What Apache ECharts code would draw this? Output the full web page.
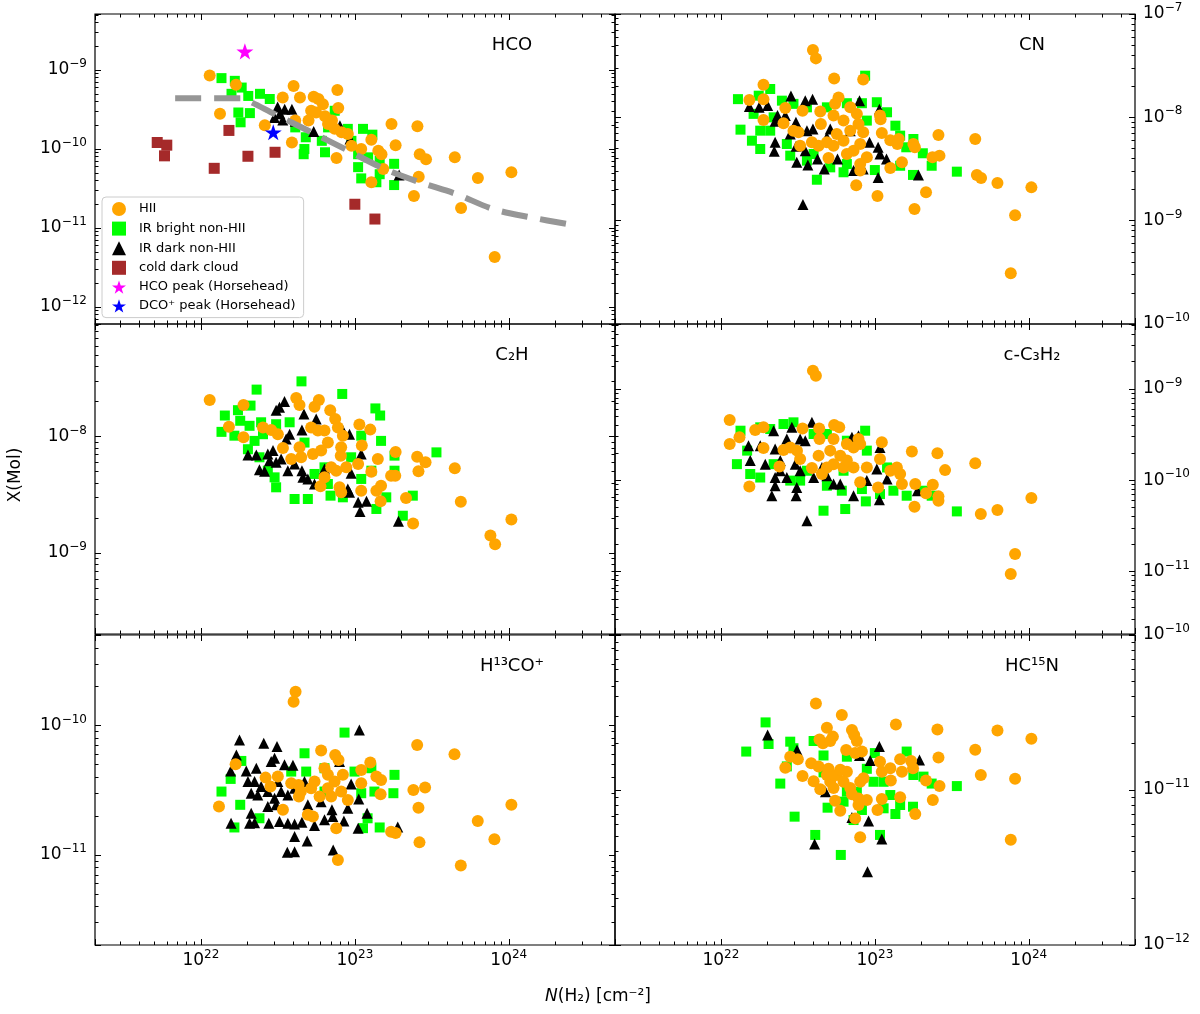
<!DOCTYPE html>
<html>
<head>
<meta charset="utf-8">
<script src="https://cdn.jsdelivr.net/npm/echarts@6/dist/echarts.min.js"></script>
<style>
  html, body { margin: 0; background: #fff; }
  #chart { width: 1200px; height: 1014px; }
</style>
</head>
<body>
<div id="chart"></div>
<script>
// values, [N(H2) cm^-2, X(Mol)]

// HCO
const hcoHII = [[1.14e22,8.5e-10],[1.69e22,6.5e-10],[4.0e22,6.3e-10],[7.7e22,5.6e-10],[3.4e22,4.5e-10],[4.4e22,4.5e-10],[5.4e22,4.6e-10],[5.8e22,4.3e-10],[6.2e22,3.7e-10],[7.8e22,3.3e-10],[5.2e22,3.05e-10],[5.6e22,2.9e-10],[6.4e22,2.6e-10],[7.1e22,2.3e-10],[5.0e22,2.3e-10],[1.33e22,2.8e-10],[2.6e22,2.0e-10],[4.1e22,2.3e-10],[7.4e22,1.8e-10],[8.2e22,1.63e-10],[9.0e22,1.55e-10],[3.9e22,1.21e-10],[1.28e23,1.31e-10],[1.1e23,1.0e-10],[1.42e23,9.5e-11],[1.49e23,8.6e-11],[7.6e22,7.7e-11],[1.73e23,2.07e-10],[2.55e23,1.94e-10],[1.84e23,1.12e-10],[2.64e23,8.6e-11],[2.9e23,7.4e-11],[4.46e23,7.85e-11],[1.53e23,5.6e-11],[2.6e23,4.47e-11],[1.28e23,3.8e-11],[2.42e23,2.54e-11],[6.3e23,4.3e-11],[1.04e24,5.1e-11],[4.9e23,1.79e-11],[8.1e23,4.3e-12],[6.7e22,2.07e-10],[9.5e22,1.1e-10]];
const hcoIRB = [[1.36e22,7.9e-10],[1.66e22,7.3e-10],[1.84e22,6.0e-10],[1.58e22,5.0e-10],[2.03e22,4.7e-10],[2.42e22,5.0e-10],[2.8e22,4.3e-10],[1.75e22,2.9e-10],[2.08e22,2.85e-10],[1.81e22,2.18e-10],[4.1e22,1.88e-10],[4.8e22,1.41e-10],[4.7e22,1.0e-10],[4.65e22,8.6e-11],[6.4e22,9.1e-11],[7.4e22,3.05e-10],[6.7e22,1.88e-10],[9.0e22,1.8e-10],[1.13e23,1.8e-10],[1.3e23,1.52e-10],[1.05e23,8.6e-11],[1.05e23,5.9e-11],[1.1e23,4.25e-11],[1.38e23,3.8e-11],[1.45e23,4.8e-11],[1.8e23,6.5e-11],[1.8e23,3.5e-11],[1.22e23,7.85e-11],[1.45e23,7.1e-11],[9.5e22,1.27e-10],[6.1e22,1.27e-10]];
const hcoIRD = [[3.15e22,3.4e-10],[3.5e22,3.2e-10],[3.9e22,3.2e-10],[3.0e22,2.5e-10],[3.4e22,2.33e-10],[4.1e22,2.24e-10],[5.4e22,1.67e-10],[8.0e22,1.97e-10],[9.3e22,1.34e-10],[1.94e23,4.7e-11],[3.26e22,2.8e-10]];
const hcoCold = [[5.2e21,1.21e-10],[6.0e21,1.12e-10],[5.8e21,8.2e-11],[1.52e22,1.72e-10],[1.22e22,5.7e-11],[2.02e22,8.1e-11],[3.03e22,9.1e-11],[1.0e23,2.0e-11],[1.35e23,1.3e-11]];
const hcoPeak = [[1.93e22,1.72e-9]];
const dcoPeak = [[2.95e22,1.63e-10]];
const hcoModel = [[6.8e21,4.4e-10],[1.84e22,4.4e-10],[2.13e22,3.9e-10],[3.0e22,2.78e-10],[5.2e22,1.64e-10],[8.8e22,9.8e-11],[1.53e23,5.7e-11],[2.64e23,3.8e-11],[4.57e23,2.69e-11],[7.9e23,1.74e-11],[1.4e24,1.36e-11],[2.43e24,1.12e-11]];

// CN
const cnHII = [[3.96e22,4.49e-8],[4.14e22,3.72e-8],[5.44e22,2.38e-8],[8.4e22,2.32e-8],[1.89e22,2.07e-8],[1.53e22,1.47e-8],[1.89e22,1.5e-8],[2.62e22,1.23e-8],[3.39e22,1.16e-8],[4.42e22,1.14e-8],[5.81e22,1.56e-8],[5.52e22,1.35e-8],[6.92e22,1.25e-8],[7.64e22,1.08e-8],[5.39e22,1.04e-8],[6.26e22,9.3e-9],[1.89e22,9.4e-9],[2.55e22,8.75e-9],[2.96e22,7.43e-9],[3.19e22,7.16e-9],[4.46e22,8.6e-9],[7.83e22,8.6e-9],[8.4e22,7.16e-9],[1.08e23,1.04e-8],[1.09e23,9.6e-9],[1.11e23,7.05e-9],[1.26e23,6.0e-9],[1.43e23,6.17e-9],[1.4e23,5.52e-9],[1.78e23,5.52e-9],[1.82e23,5.13e-9],[2.59e23,6.75e-9],[4.49e23,6.17e-9],[3.9e22,5.73e-9],[4.31e22,5.32e-9],[4.88e22,5.73e-9],[5.39e22,5.32e-9],[3.27e22,5.32e-9],[5.0e22,4.04e-9],[6.58e22,4.42e-9],[7.27e22,4.75e-9],[8.03e22,5.52e-9],[8.87e22,4.1e-9],[8.03e22,3.53e-9],[8.03e22,3.05e-9],[1.26e23,3.24e-9],[1.5e23,3.67e-9],[2.37e23,4.1e-9],[2.63e23,4.26e-9],[4.6e23,2.77e-9],[4.9e23,2.59e-9],[6.26e23,2.32e-9],[1.04e24,2.1e-9],[7.57e22,2.2e-9],[1.04e23,1.73e-9],[2.15e23,1.88e-9],[1.81e23,1.3e-9],[8.15e23,1.13e-9],[7.64e23,3.1e-10],[6.92e22,7.43e-9],[6.26e22,5.94e-9],[5.66e22,6.9e-9]];
const cnIRB = [[1.29e22,1.5e-8],[1.34e22,7.6e-9],[1.59e22,5.94e-9],[1.8e22,4.94e-9],[1.8e22,7.43e-9],[2.09e22,1.88e-8],[1.76e22,1.62e-8],[2.49e22,1.45e-8],[2.96e22,1.35e-8],[3.62e22,1.25e-8],[4.88e22,1.25e-8],[6.58e22,1.37e-8],[8.65e22,2.53e-8],[8.24e22,1.37e-8],[1.03e23,1.4e-8],[1.2e23,1.12e-8],[1.36e23,8.3e-9],[1.46e23,6.65e-9],[1.78e23,6.17e-9],[2.05e23,4.49e-9],[2.34e23,3.4e-9],[3.41e23,2.98e-9],[1.77e23,2.77e-9],[1.0e23,3.09e-9],[6.26e22,2.94e-9],[4.2e22,2.49e-9],[2.82e22,4.26e-9],[2.68e22,5.52e-9],[2.09e22,7.43e-9],[8.87e22,9.3e-9],[6.58e22,3.53e-9],[5.13e22,3.28e-9],[3.62e22,3.81e-9],[1.46e23,3.4e-9],[1.6e23,5.13e-9],[2.2e22,1.0e-8],[4.0e22,4.42e-9],[1.63e22,1.08e-8]];
const cnIRD = [[2.85e22,1.61e-8],[3.53e22,1.45e-8],[3.94e22,1.5e-8],[1.53e22,1.27e-8],[1.77e22,1.25e-8],[2.01e22,1.3e-8],[2.33e22,1.04e-8],[2.25e22,9.15e-9],[2.62e22,1.04e-8],[3.07e22,8.95e-9],[3.62e22,7.43e-9],[3.96e22,7.7e-9],[5.13e22,7.7e-9],[2.25e22,5.73e-9],[2.22e22,4.69e-9],[3.08e22,5.24e-9],[3.11e22,3.67e-9],[3.53e22,4.75e-9],[4.24e22,3.95e-9],[3.67e22,3.46e-9],[4.69e22,3.16e-9],[5.72e22,3.95e-9],[7.27e22,3.05e-9],[8.4e22,3.16e-9],[1.05e23,2.62e-9],[7.95e22,1.45e-8],[1.07e23,1.2e-8],[9.23e22,5.73e-9],[1.05e23,5.13e-9],[1.08e23,4.42e-9],[1.19e23,3.95e-9],[1.92e23,2.77e-9],[3.41e22,1.43e-9],[6.92e22,7.43e-9],[2.82e22,6.9e-9],[4.88e22,6.4e-9]];

// C2H
const c2hHII = [[1.14e22,2.07e-8],[1.89e22,1.87e-8],[1.52e22,1.22e-8],[1.89e22,9.9e-9],[2.53e22,1.2e-8],[2.86e22,1.14e-8],[3.16e22,1.05e-8],[4.16e22,2.15e-8],[4.37e22,1.87e-8],[5.84e22,2.07e-8],[5.47e22,1.81e-8],[6.92e22,1.69e-8],[7.45e22,1.42e-8],[7.76e22,1.2e-8],[5.2e22,1.2e-8],[5.75e22,1.13e-8],[6.35e22,1.13e-8],[6.68e22,8.9e-9],[8.36e22,1.02e-8],[8.15e22,8.1e-9],[8.1e22,6.87e-9],[3.41e22,8.0e-9],[3.86e22,6.43e-9],[4.48e22,6.65e-9],[4.37e22,8.1e-9],[5.34e22,7.1e-9],[6.04e22,7.6e-9],[7.02e22,5.45e-9],[7.57e22,5.1e-9],[8.79e22,5.45e-9],[6.35e22,4.47e-9],[5.98e22,3.74e-9],[7.95e22,3.67e-9],[8.15e22,3.32e-9],[1.07e23,1.27e-8],[1.26e23,1.15e-8],[1.11e23,8.4e-9],[1.05e23,5.82e-9],[1.28e23,5.0e-9],[1.41e23,6.43e-9],[1.1e23,3.43e-9],[1.38e23,3.43e-9],[1.48e23,3.79e-9],[1.47e23,2.78e-9],[1.72e23,4.62e-9],[1.83e23,4.62e-9],[1.84e23,7.4e-9],[2.54e23,6.73e-9],[2.88e23,6.02e-9],[2.59e23,5.04e-9],[4.46e23,5.35e-9],[2.15e23,2.97e-9],[2.39e23,1.79e-9],[4.88e23,2.76e-9],[1.04e24,1.94e-9],[7.6e23,1.41e-9],[8.15e23,1.19e-9]];
const c2hIRB = [[2.3e22,2.54e-8],[4.5e22,2.99e-8],[8.28e22,2.33e-8],[2.1e22,1.85e-8],[1.43e22,1.52e-8],[1.74e22,1.69e-8],[1.8e22,1.37e-8],[1.36e22,1.1e-8],[1.65e22,1.02e-8],[2.07e22,1.24e-8],[2.46e22,1.33e-8],[2.53e22,1.05e-8],[3.77e22,1.33e-8],[3.08e22,1.28e-8],[2.02e22,7.8e-9],[2.4e22,6.65e-9],[3.01e22,4.47e-9],[3.08e22,3.67e-9],[2.72e22,5.1e-9],[2.23e22,9.2e-9],[4.06e22,2.91e-9],[4.95e22,2.91e-9],[6.95e22,3.11e-9],[8.36e22,3.01e-9],[1.36e23,1.75e-8],[1.46e23,1.52e-8],[1.1e23,1.02e-8],[1.48e23,9.2e-9],[1.28e23,5.1e-9],[1.81e23,6.87e-9],[1.81e23,5.1e-9],[1.1e23,4.33e-9],[1.38e23,2.39e-9],[1.6e23,3.01e-9],[2.38e23,3.11e-9],[2.05e23,2.09e-9],[3.39e23,7.33e-9],[6.35e22,5.45e-9],[4.71e22,8.9e-9],[5.47e22,4.78e-9],[9.46e22,6.65e-9],[6.68e22,3.92e-9]];
const c2hIRD = [[3.08e22,1.69e-8],[3.49e22,2.01e-8],[3.24e22,1.79e-8],[4.67e22,1.57e-8],[5.61e22,1.42e-8],[4.53e22,1.14e-8],[3.77e22,1.05e-8],[3.58e22,9.55e-9],[2.02e22,6.95e-9],[2.29e22,6.95e-9],[2.72e22,7.1e-9],[2.94e22,7.6e-9],[2.79e22,6.22e-9],[2.4e22,5.2e-9],[2.59e22,5.04e-9],[3.08e22,6.02e-9],[3.67e22,5.1e-9],[4.53e22,5.1e-9],[4.6e22,4.47e-9],[4.95e22,4.33e-9],[5.47e22,3.92e-9],[6.35e22,5.27e-9],[9.46e22,4.84e-9],[8.36e22,1.13e-8],[9.23e22,1.05e-8],[1.1e23,7.1e-9],[9.0e22,3.55e-9],[9.23e22,3.32e-9],[1.05e23,2.73e-9],[1.19e23,2.78e-9],[1.08e23,2.27e-9],[1.92e23,1.87e-9],[3.32e22,6.43e-9],[4.06e22,5.82e-9]];

// c-C3H2
const c3h2HII = [[3.96e22,1.59e-9],[4.14e22,1.4e-9],[1.14e22,4.57e-10],[1.14e22,2.49e-10],[1.32e22,2.95e-10],[1.67e22,3.55e-10],[1.89e22,3.8e-10],[1.89e22,2.25e-10],[1.53e22,8.55e-11],[2.4e22,1.41e-10],[2.55e22,2.14e-10],[2.82e22,2.29e-10],[3.12e22,2.11e-10],[3.27e22,1.71e-10],[3.39e22,3.7e-10],[4.35e22,3.7e-10],[4.37e22,2.83e-10],[4.31e22,1.86e-10],[3.9e22,1.36e-10],[4.53e22,1.17e-10],[4.88e22,1.38e-10],[5.44e22,4.03e-10],[5.87e22,3.8e-10],[5.39e22,2.83e-10],[5.13e22,2.11e-10],[5.96e22,1.86e-10],[6.58e22,2.49e-10],[7.27e22,2.29e-10],[8.03e22,2.49e-10],[7.83e22,2.83e-10],[6.26e22,1.38e-10],[7.27e22,1.38e-10],[8.87e22,1.38e-10],[8.03e22,9.47e-11],[1.05e23,8.34e-11],[1.11e23,2.6e-10],[1.08e23,1.71e-10],[1.26e23,1.27e-10],[1.39e23,1.38e-10],[1.46e23,1.17e-10],[1.5e23,9.08e-11],[1.74e23,2.06e-10],[1.83e23,9.08e-11],[1.81e23,5.12e-11],[2.15e23,7.18e-11],[2.38e23,8.93e-11],[2.59e23,6.65e-11],[2.59e23,5.96e-11],[2.55e23,1.97e-10],[2.86e23,1.29e-10],[4.49e23,1.53e-10],[4.88e23,4.26e-11],[6.26e23,4.71e-11],[1.04e24,6.37e-11],[8.15e23,1.55e-11],[7.64e23,9.35e-12],[6.58e22,1.64e-10],[5.39e22,1.5e-10]];
const c3h2IRB = [[1.34e22,3.49e-10],[1.27e22,1.5e-10],[1.55e22,1.17e-10],[1.8e22,1.07e-10],[1.8e22,3.8e-10],[2.09e22,3.64e-10],[2.55e22,4.13e-10],[2.96e22,4.31e-10],[4.0e22,3.21e-10],[4.88e22,3.21e-10],[6.58e22,2.71e-10],[8.65e22,3.49e-10],[8.87e22,2.11e-10],[2.82e22,9.9e-11],[3.27e22,9.9e-11],[4.88e22,8.7e-11],[6.1e22,7.67e-11],[8.24e22,8.0e-11],[8.74e22,5.86e-11],[1.08e23,7.05e-11],[6.42e22,4.83e-11],[4.64e22,4.63e-11],[1.32e23,7.67e-11],[1.61e23,6.76e-11],[2.07e23,7.67e-11],[2.34e23,6.76e-11],[3.41e23,4.55e-11],[1.48e22,2.11e-10],[2.2e22,1.5e-10],[3.62e22,1.27e-10],[1.2e23,1.38e-10],[6.26e22,1.27e-10]];
const c3h2IRD = [[3.9e22,4.31e-10],[2.2e22,3.49e-10],[2.89e22,3.8e-10],[1.51e22,2.39e-10],[1.8e22,2.39e-10],[1.55e22,1.64e-10],[1.94e22,1.5e-10],[2.25e22,2.2e-10],[2.68e22,2.83e-10],[3.27e22,2.83e-10],[3.53e22,2.71e-10],[2.43e22,1.64e-10],[3.04e22,1.5e-10],[3.27e22,1.27e-10],[2.25e22,1.07e-10],[2.68e22,1.07e-10],[2.25e22,8.7e-11],[2.14e22,6.76e-11],[3.08e22,6.76e-11],[3.11e22,8.34e-11],[3.62e22,3.6e-11],[4.0e22,1.07e-10],[4.88e22,1.12e-10],[5.39e22,9.08e-11],[5.96e22,9.08e-11],[7.1e22,2.95e-10],[7.83e22,3.08e-10],[7.27e22,6.76e-11],[8.87e22,9.9e-11],[1.03e23,1.33e-10],[1.08e23,2.29e-10],[1.07e23,6.11e-11],[1.2e23,1.03e-10],[1.89e23,7.67e-11],[4.53e22,1.38e-10],[2.43e22,1.27e-10]];

// H13CO+
const h13HII = [[4.12e22,1.83e-10],[4.0e22,1.53e-10],[1.68e22,5.02e-11],[1.31e22,2.37e-11],[2.63e22,3.96e-11],[2.83e22,3.38e-11],[3.16e22,4.04e-11],[3.41e22,2.23e-11],[3.86e22,3.58e-11],[4.31e22,3.48e-11],[4.33e22,2.83e-11],[4.95e22,2.04e-11],[5.34e22,1.98e-11],[5.2e22,3.28e-11],[5.47e22,3.69e-11],[5.9e22,2.83e-11],[6.04e22,6.41e-11],[6.35e22,4.68e-11],[6.68e22,4.16e-11],[7.45e22,5.93e-11],[7.83e22,5.43e-11],[8.36e22,4.16e-11],[7.38e22,3.69e-11],[8.15e22,3.09e-11],[7.02e22,2.83e-11],[9.0e22,2.66e-11],[7.57e22,1.61e-11],[7.76e22,9.15e-12],[1.1e23,4.54e-11],[1.26e23,5.18e-11],[1.1e23,3.58e-11],[1.38e23,4.04e-11],[1.48e23,3.8e-11],[1.47e23,2.94e-11],[1.72e23,1.51e-11],[1.84e23,1.48e-11],[2.4e23,3.18e-11],[2.54e23,7.09e-11],[2.86e23,3.32e-11],[2.59e23,2.32e-11],[2.63e23,1.25e-11],[4.44e23,6.0e-11],[6.29e23,1.83e-11],[1.04e24,2.44e-11],[8.07e23,1.32e-11],[4.88e23,8.27e-12],[4.46e22,3.09e-11],[6.68e22,3.28e-11]];
const h13IRB = [[1.36e22,3.09e-11],[1.56e22,3.87e-11],[1.8e22,2.44e-11],[1.83e22,5.33e-11],[1.65e22,1.63e-11],[2.4e22,1.92e-11],[4.71e22,6.11e-11],[4.83e22,4.41e-11],[8.57e22,8.83e-11],[9.95e22,4.41e-11],[1.28e23,4.68e-11],[1.81e23,4.16e-11],[1.78e23,3.0e-11],[1.34e23,3.09e-11],[1.1e23,3.0e-11],[1.45e23,1.63e-11],[1.13e23,1.61e-11],[1.21e23,1.92e-11],[6.35e22,3.09e-11],[6.35e22,4.68e-11],[3.86e22,4.41e-11]];
const h13IRD = [[1.78e22,7.75e-11],[2.56e22,7.3e-11],[3.12e22,6.89e-11],[1.7e22,5.93e-11],[3.01e22,5.59e-11],[2.86e22,5.27e-11],[3.49e22,4.97e-11],[3.96e22,4.93e-11],[1.56e22,4.46e-11],[1.97e22,4.46e-11],[2.29e22,4.68e-11],[2.02e22,3.69e-11],[2.23e22,3.69e-11],[2.46e22,3.38e-11],[2.12e22,3.0e-11],[2.34e22,2.91e-11],[2.72e22,3.09e-11],[3.01e22,2.74e-11],[3.32e22,3.09e-11],[3.67e22,2.91e-11],[4.06e22,3.28e-11],[2.72e22,2.37e-11],[3.08e22,2.44e-11],[2.12e22,2.1e-11],[2.07e22,1.76e-11],[1.57e22,1.76e-11],[2.23e22,1.77e-11],[2.76e22,1.76e-11],[3.24e22,1.81e-11],[3.67e22,1.76e-11],[4.06e22,1.73e-11],[4.53e22,1.79e-11],[5.47e22,1.69e-11],[6.35e22,1.87e-11],[7.19e22,1.98e-11],[8.49e22,1.83e-11],[1.05e23,1.61e-11],[1.2e23,2.1e-11],[1.06e23,2.71e-11],[9.46e22,3.54e-11],[1.07e23,9.25e-11],[4.06e22,1.39e-11],[4.9e22,1.28e-11],[3.64e22,1.05e-11],[4.06e22,1.06e-11],[7.23e22,1.09e-11],[7.1e22,2.23e-11],[9.0e22,2.3e-11],[4.95e22,2.44e-11],[6.04e22,2.58e-11],[4.71e22,3.69e-11],[1.9e23,1.64e-11],[7.95e22,5.27e-11],[3.16e22,3.69e-11]];

// HC15N
const hc15HII = [[4.14e22,3.62e-11],[6.1e22,3.05e-11],[4.88e22,2.52e-11],[4.37e22,2.12e-11],[4.6e22,2.0e-11],[5.34e22,2.21e-11],[5.13e22,2.07e-11],[7.1e22,2.44e-11],[7.34e22,2.26e-11],[7.64e22,2.07e-11],[6.51e22,1.81e-11],[7.45e22,1.73e-11],[8.24e22,1.77e-11],[2.82e22,1.64e-11],[3.16e22,1.58e-11],[2.62e22,1.39e-11],[3.39e22,1.23e-11],[3.86e22,1.49e-11],[4.31e22,1.42e-11],[5.0e22,1.37e-11],[4.0e22,1.14e-11],[4.42e22,1.01e-11],[5.13e22,1.13e-11],[5.66e22,1.25e-11],[5.96e22,1.35e-11],[6.58e22,1.31e-11],[6.26e22,1.13e-11],[5.39e22,1.03e-11],[5.52e22,8.53e-12],[5.96e22,7.36e-12],[7.1e22,9.38e-12],[7.83e22,8.83e-12],[7.83e22,8.0e-12],[8.87e22,8.62e-12],[8.03e22,1.13e-11],[8.44e22,1.19e-11],[7.45e22,6.56e-12],[8.03e22,4.95e-12],[1.04e23,7.43e-12],[1.08e23,1.52e-11],[1.11e23,1.31e-11],[1.26e23,1.38e-11],[1.27e23,1.15e-11],[1.11e23,8.75e-12],[1.46e23,1.58e-11],[1.5e23,1.31e-11],[1.46e23,8.97e-12],[1.37e23,2.65e-11],[1.72e23,1.54e-11],[1.77e23,1.38e-11],[1.83e23,7.0e-12],[2.15e23,1.15e-11],[2.38e23,8.62e-12],[2.63e23,1.06e-11],[2.55e23,2.46e-11],[2.59e23,1.62e-11],[4.49e23,1.82e-11],[4.88e23,1.25e-11],[6.26e23,2.42e-11],[1.04e24,2.14e-11],[8.15e23,1.18e-11],[7.64e23,4.78e-12],[6.92e22,1.03e-11],[4.88e22,1.25e-11]];
const hc15IRB = [[1.95e22,2.73e-11],[2.04e22,1.98e-11],[1.46e22,1.77e-11],[2.82e22,2.05e-11],[4.0e22,2.07e-11],[4.64e22,1.67e-11],[2.96e22,1.86e-11],[2.68e22,1.42e-11],[2.43e22,1.1e-11],[3.01e22,6.73e-12],[4.1e22,5.13e-12],[4.93e22,7.69e-12],[6.01e22,3.81e-12],[4.64e22,1.3e-11],[6.58e22,1.64e-11],[1.0e23,1.73e-11],[9.8e22,1.13e-11],[1.14e23,1.13e-11],[1.61e23,1.77e-11],[1.78e23,1.25e-11],[2.07e23,1.22e-11],[2.34e23,1.1e-11],[3.41e23,1.06e-11],[1.36e23,7.0e-12],[1.46e23,8.0e-12],[1.77e23,7.8e-12],[7.64e22,9.75e-12],[7.27e22,6.4e-12],[8.24e22,7.43e-12],[6.26e22,8.41e-12],[1.08e23,5.13e-12],[1.14e23,7.62e-12],[1.26e23,9.28e-12],[8.87e22,1.37e-11],[6.58e22,9.75e-12]];
const hc15IRD = [[2.01e22,2.26e-11],[3.12e22,1.81e-11],[4.78e22,9.75e-12],[7.95e22,1.67e-11],[9.33e22,1.55e-11],[1.07e23,1.91e-11],[1.95e23,1.56e-11],[7.1e22,6.64e-12],[9.1e22,6.31e-12],[4.06e22,4.49e-12],[1.11e23,4.83e-12],[8.96e22,2.97e-12]];

// axis ranges and tick mantissas
const xRange = [2.05e21, 4.9e24];
const minorMantissas = [2, 3, 4, 5, 6, 7, 8, 9];

const panels = [
  { label: 'HCO',     left: 95,  top: 14,  y: [6.1e-13, 5.12e-9], side: 'left',  xLab: false, hii: hcoHII,  irb: hcoIRB,  ird: hcoIRD },
  { label: 'CN',      left: 615, top: 14,  y: [1e-10, 1e-7],      side: 'right', xLab: false, hii: cnHII,   irb: cnIRB,   ird: cnIRD },
  { label: 'C\u2082H', left: 95, top: 324, y: [2.01e-10, 9.31e-8], side: 'left',  xLab: false, hii: c2hHII,  irb: c2hIRB,  ird: c2hIRD },
  { label: 'c-C\u2083H\u2082', left: 615, top: 324, y: [2.06e-12, 5.16e-9], side: 'right', xLab: false, hii: c3h2HII, irb: c3h2IRB, ird: c3h2IRD },
  { label: 'H\u00b9\u00b3CO\u207a', left: 95, top: 635, y: [2.01e-12, 5.02e-10], side: 'left', xLab: true, hii: h13HII, irb: h13IRB, ird: h13IRD },
  { label: 'HC\u00b9\u2075N', left: 615, top: 635, y: [1e-12, 1e-10], side: 'right', xLab: true, hii: hc15HII, irb: hc15IRB, ird: hc15IRD }
];

const FONT = 'DejaVu Sans';
const STAR = 'path://M50,0 L61.8,35.1 98.1,35.1 68.6,56.8 79.4,91.4 50,70.2 20.6,91.4 31.4,56.8 1.9,35.1 38.2,35.1 Z';
const tickStyle = { color: '#000', width: 1 };
const labelRich = {
  b: { fontFamily: FONT, fontSize: 17, color: '#000', lineHeight: 24 },
  s: { fontFamily: FONT, fontSize: 12, color: '#000', lineHeight: 12, verticalAlign: 'top' }
};

function expLabel(v) {
  const e = Math.log10(v), r = Math.round(e);
  if (Math.abs(e - r) > 1e-3) return '';
  return '{b|10}{s|' + (r < 0 ? '\u2212' + (-r) : r) + '}';
}

function minorLogTicks(lo, hi) {
  const a = Math.log10(lo), b = Math.log10(hi), out = [];
  for (let n = Math.floor(a); n <= Math.ceil(b); n++) {
    minorMantissas.forEach(m => {
      const v = n + Math.log10(m);
      if (v > a && v < b) out.push(v);
    });
  }
  return out;
}

function majorAxis(gi, range, pos, showLabel, margin) {
  return {
    type: 'log', gridIndex: gi, min: range[0], max: range[1], position: pos,
    axisLine: { show: false, onZero: false },
    axisTick: { show: true, inside: true, length: 6, lineStyle: tickStyle },
    minorTick: { show: false },
    splitLine: { show: false },
    axisLabel: { show: showLabel, formatter: expLabel, rich: labelRich, margin: margin }
  };
}

// minor ticks at 2..9 x 10^n, on a value axis in log10 units laid over the same grid
function minorAxis(gi, range, pos) {
  return {
    type: 'value', gridIndex: gi, min: Math.log10(range[0]), max: Math.log10(range[1]), position: pos,
    axisLine: { show: false, onZero: false },
    axisTick: { show: true, inside: true, length: 3.5, lineStyle: tickStyle, customValues: minorLogTicks(range[0], range[1]) },
    axisLabel: { show: false },
    splitLine: { show: false }
  };
}

const grids = [], xAxes = [], yAxes = [], series = [], graphics = [];

function scatter(name, data, gi, symbol, size, color) {
  return {
    type: 'scatter', name: name, data: data, xAxisIndex: 4 * gi, yAxisIndex: 4 * gi,
    symbol: symbol, symbolSize: size, symbolKeepAspect: true,
    itemStyle: { color: color, opacity: 1 }, silent: true, emphasis: { disabled: true }
  };
}

panels.forEach((p, i) => {
  grids.push({ left: p.left, top: p.top, width: 520, height: 310, show: true, borderColor: '#000', borderWidth: 1.2, backgroundColor: 'transparent' });
  const other = p.side === 'left' ? 'right' : 'left';
  xAxes.push(majorAxis(i, xRange, 'bottom', p.xLab, 4), majorAxis(i, xRange, 'top', false, 4),
             minorAxis(i, xRange, 'bottom'), minorAxis(i, xRange, 'top'));
  yAxes.push(majorAxis(i, p.y, p.side, true, 8), majorAxis(i, p.y, other, false, 8),
             minorAxis(i, p.y, p.side), minorAxis(i, p.y, other));

  series.push(scatter('IR bright non-HII', p.irb, i, 'rect', 10, '#00ff00'));
  series.push(scatter('IR dark non-HII', p.ird, i, 'triangle', 11, '#000000'));
  series.push(scatter('HII', p.hii, i, 'circle', 12, '#ffa500'));

  graphics.push({
    type: 'text', x: p.left + 417, y: p.top + 31,
    style: { text: p.label, font: '18px "DejaVu Sans"', fill: '#000', align: 'center', verticalAlign: 'middle', textAlign: 'center', textVerticalAlign: 'middle' }
  });
});

series.push(scatter('cold dark cloud', hcoCold, 0, 'rect', 11, '#a52a2a'));
series.push(scatter('HCO peak (Horsehead)', hcoPeak, 0, STAR, 17, '#ff00ff'));
series.push(scatter('DCO\u207a peak (Horsehead)', dcoPeak, 0, STAR, 17, '#0000ff'));
series.push({
  type: 'line', name: 'model', data: hcoModel, xAxisIndex: 0, yAxisIndex: 0,
  symbol: 'none', smooth: 0.3, silent: true, z: 3,
  lineStyle: { color: '#969696', width: 6, type: [26, 13], cap: 'butt' }
});

graphics.push({
  type: 'text', x: 16, y: 475, rotation: Math.PI / 2,
  style: { text: 'X(Mol)', font: '17px "DejaVu Sans"', fill: '#000', align: 'center', verticalAlign: 'middle', textAlign: 'center', textVerticalAlign: 'middle' }
});
graphics.push({
  type: 'text', x: 598, y: 997,
  style: {
    text: '{i|N}{n|(H\u2082) [cm\u207b\u00b2]}', align: 'center', verticalAlign: 'middle', textAlign: 'center', textVerticalAlign: 'middle',
    rich: {
      i: { fontFamily: FONT, fontSize: 17, fontStyle: 'italic', fill: '#000', color: '#000' },
      n: { fontFamily: FONT, fontSize: 17, fill: '#000', color: '#000' }
    }
  }
});

const chart = echarts.init(document.getElementById('chart'), null, { renderer: 'canvas' });
chart.setOption({
  animation: false,
  backgroundColor: '#fff',
  textStyle: { fontFamily: FONT },
  grid: grids,
  xAxis: xAxes,
  yAxis: yAxes,
  legend: {
    left: 102, top: 197, orient: 'vertical', selectedMode: false,
    itemWidth: 14, itemHeight: 14, itemGap: 5.6,
    padding: [5, 8, 5, 10],
    backgroundColor: '#fff', borderColor: '#cccccc', borderWidth: 1, borderRadius: 4,
    textStyle: { fontFamily: FONT, fontSize: 13, color: '#000', padding: [0, 0, 0, 8] },
    data: [
      { name: 'HII', icon: 'circle' },
      { name: 'IR bright non-HII', icon: 'rect' },
      { name: 'IR dark non-HII', icon: 'triangle' },
      { name: 'cold dark cloud', icon: 'rect' },
      { name: 'HCO peak (Horsehead)', icon: STAR },
      { name: 'DCO\u207a peak (Horsehead)', icon: STAR }
    ]
  },
  graphic: graphics,
  series: series
});
</script>
</body>
</html>
